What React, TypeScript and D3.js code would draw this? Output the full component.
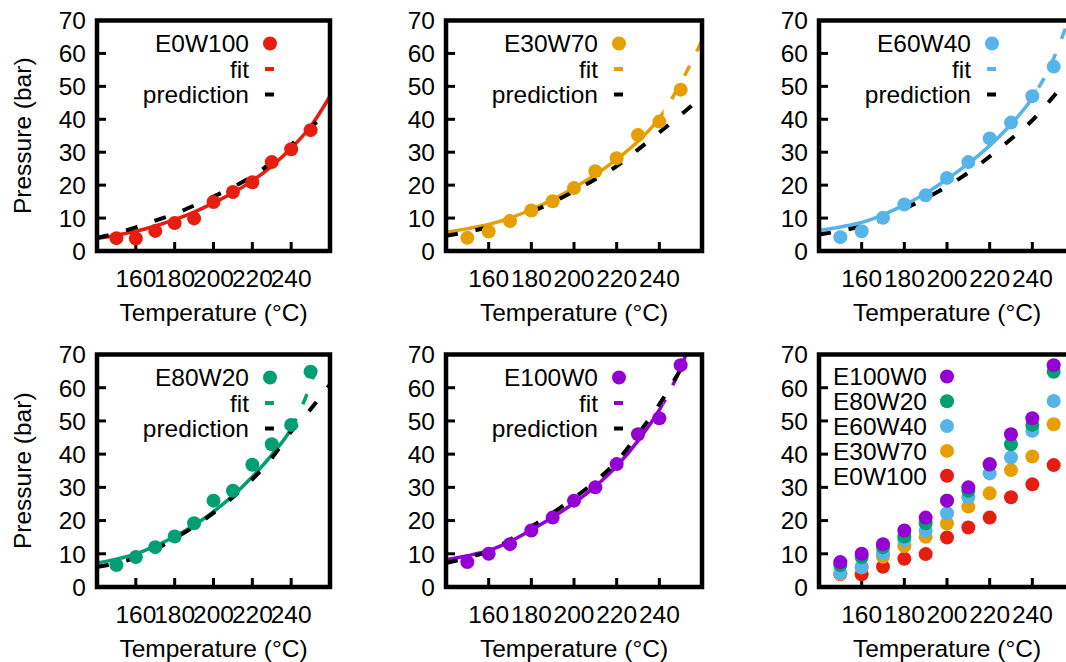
import React from "react";
import * as d3 from "d3";

// measured temperatures (°C)
const TEMPS = [150, 160, 170, 180, 190, 200, 210, 220, 230, 240, 250];
// temperatures the fit / prediction curves are read at
const CURVE_T = [140, 150, 160, 170, 180, 190, 200, 210, 220, 230, 240, 250, 260];

const X_TICKS = [160, 180, 200, 220, 240];
const Y_TICKS = [0, 10, 20, 30, 40, 50, 60, 70];

// measured pressures (bar)
const E0W100 = [3.9, 3.8, 6.1, 8.5, 9.9, 14.9, 17.9, 20.9, 27.0, 30.9, 36.7];
const E30W70 = [4.0, 5.9, 9.1, 12.3, 15.1, 19.1, 24.2, 28.2, 35.2, 39.3, 49.0];
const E60W40 = [4.2, 6.0, 10.1, 14.1, 16.9, 22.2, 27.0, 34.2, 39.0, 47.0, 56.0];
const E80W20 = [6.6, 9.0, 12.0, 15.2, 19.2, 26.0, 29.0, 36.8, 43.0, 48.8, 64.8];
const E100W0 = [7.5, 10.0, 12.9, 17.0, 20.9, 26.0, 30.0, 37.0, 46.0, 50.8, 66.8];

// fitted curves
const FIT_E0W100 = [3.8, 4.8, 6.0, 7.6, 9.5, 11.8, 14.6, 17.7, 21.3, 25.8, 31.2, 37.8, 47.0];
const FIT_E30W70 = [5.7, 6.8, 8.1, 10.0, 12.6, 15.6, 19.2, 23.2, 27.8, 33.3, 40.3, 51.0, 64.0];
const FIT_E60W40 = [6.2, 7.3, 8.7, 11.0, 14.0, 17.5, 21.8, 26.5, 32.0, 38.5, 46.5, 58.5, 76.0];
const FIT_E80W20 = [7.2, 8.4, 10.0, 12.3, 15.2, 18.6, 22.7, 27.5, 33.2, 39.8, 47.7, 61.0, 80.0];
const FIT_E100W0 = [8.2, 9.4, 11.0, 13.7, 17.2, 21.0, 25.3, 30.3, 36.4, 44.0, 53.3, 66.0, 84.0];

// predicted curves
const PRED_E0W100 = [4.0, 5.4, 7.2, 9.2, 11.3, 13.8, 16.5, 19.4, 22.7, 27.0, 32.2, 37.5, 43.0];
const PRED_E30W70 = [4.6, 5.8, 7.3, 9.4, 11.9, 14.8, 18.2, 21.8, 25.8, 30.8, 36.0, 41.3, 46.8];
const PRED_E60W40 = [5.0, 6.1, 7.5, 9.6, 12.8, 16.0, 19.6, 23.8, 28.7, 34.0, 39.7, 47.0, 55.0];
const PRED_E80W20 = [6.0, 7.2, 8.8, 11.3, 14.6, 18.2, 22.3, 27.0, 32.4, 38.8, 46.8, 53.5, 61.0];
const PRED_E100W0 = [7.2, 8.8, 10.8, 14.2, 18.2, 22.3, 26.8, 31.8, 37.8, 46.0, 55.0, 65.5, 77.0];

const COLORS: Record<string, string> = {
  E0W100: "#e51e10",
  E30W70: "#e69f00",
  E60W40: "#56b4e9",
  E80W20: "#009e73",
  E100W0: "#9400d3",
};

const FONT = "'Liberation Sans', Arial, Helvetica, sans-serif";
const FS = 24.5;

const COL_LEFT = [97, 446, 819];
const COL_WIDTH = [233, 256, 256];
const ROW_TOP = [20.5, 354.5];
const ROW_BOTTOM = [251, 587];

type Series = {
  name: string;
  points: number[];
  fit: number[];
  pred: number[];
  dashFrom: number | null; // fit turns dashed past this temperature
};

const SERIES: Series[] = [
  { name: "E0W100", points: E0W100, fit: FIT_E0W100, pred: PRED_E0W100, dashFrom: null },
  { name: "E30W70", points: E30W70, fit: FIT_E30W70, pred: PRED_E30W70, dashFrom: 242 },
  { name: "E60W40", points: E60W40, fit: FIT_E60W40, pred: PRED_E60W40, dashFrom: 242 },
  { name: "E80W20", points: E80W20, fit: FIT_E80W20, pred: PRED_E80W20, dashFrom: 242 },
  { name: "E100W0", points: E100W0, fit: FIT_E100W0, pred: PRED_E100W0, dashFrom: 242 },
];

function scales(col: number, row: number) {
  const left = COL_LEFT[col];
  const x = d3.scaleLinear().domain([140, 260]).range([left, left + COL_WIDTH[col]]);
  const y = d3.scaleLinear().domain([0, 70]).range([ROW_BOTTOM[row], ROW_TOP[row]]);
  return { x, y };
}

function Frame({ col, row, children }: { col: number; row: number; children?: React.ReactNode }) {
  const left = COL_LEFT[col];
  const right = left + COL_WIDTH[col];
  const top = ROW_TOP[row];
  const bottom = ROW_BOTTOM[row];
  const { x, y } = scales(col, row);
  const id = `clip-${col}-${row}`;

  return (
    <g>
      <defs>
        <clipPath id={id}>
          <rect x={left} y={top} width={right - left} height={bottom - top} />
        </clipPath>
      </defs>
      {Y_TICKS.map((t) => (
        <text key={t} x={left - 11} y={y(t)} dy="0.36em" textAnchor="end" fontSize={FS}>
          {t}
        </text>
      ))}
      {Y_TICKS.filter((t) => t > 0 && t < 70).map((t) => (
        <line key={t} x1={left} x2={left + 9} y1={y(t)} y2={y(t)} stroke="#000" strokeWidth={3} />
      ))}
      {X_TICKS.map((t) => (
        <g key={t}>
          <line x1={x(t)} x2={x(t)} y1={bottom} y2={bottom - 9} stroke="#000" strokeWidth={3} />
          <text x={x(t)} y={bottom + 36} textAnchor="middle" fontSize={FS}>
            {t}
          </text>
        </g>
      ))}
      <text x={(left + right) / 2} y={bottom + 70} textAnchor="middle" fontSize={FS}>
        Temperature (°C)
      </text>
      {col === 0 && (
        <text
          transform={`translate(22,${(top + bottom) / 2}) rotate(-90)`}
          dy="0.36em"
          textAnchor="middle"
          fontSize={FS}
        >
          Pressure (bar)
        </text>
      )}
      <g clipPath={`url(#${id})`}>{children}</g>
      <rect x={left} y={top} width={right - left} height={bottom - top} fill="none" stroke="#000" strokeWidth={4.5} />
    </g>
  );
}

function FitPanel({ s, col, row }: { s: Series; col: number; row: number }) {
  const color = COLORS[s.name];
  const left = COL_LEFT[col];
  const top = ROW_TOP[row];
  const { x, y } = scales(col, row);
  const line = d3
    .line<number>()
    .x((_, i) => x(CURVE_T[i]))
    .y((d) => y(d))
    .curve(d3.curveMonotoneX);
  const split = s.dashFrom == null ? x(260) + 10 : x(s.dashFrom);
  const cid = `fitsplit-${col}-${row}`;

  return (
    <g>
      <defs>
        <clipPath id={`${cid}-a`}>
          <rect x={0} y={0} width={split} height={700} />
        </clipPath>
        <clipPath id={`${cid}-b`}>
          <rect x={split} y={0} width={1200} height={700} />
        </clipPath>
      </defs>
      <Frame col={col} row={row}>
        <path d={line(s.fit)!} fill="none" stroke={color} strokeWidth={3.5} clipPath={`url(#${cid}-a)`} />
        <path
          d={line(s.fit)!}
          fill="none"
          stroke={color}
          strokeWidth={3.5}
          strokeDasharray="11 16"
          clipPath={`url(#${cid}-b)`}
        />
        <path d={line(s.pred)!} fill="none" stroke="#000" strokeWidth={4} strokeDasharray="12 18" />
      </Frame>
      {s.points.map((v, i) => (
        <circle key={i} cx={x(TEMPS[i])} cy={y(v)} r={7} fill={color} />
      ))}
      <g fontSize={FS} textAnchor="end">
        <text x={left + 152} y={top + 23} dy="0.36em">{s.name}</text>
        <text x={left + 152} y={top + 48.5} dy="0.36em">fit</text>
        <text x={left + 152} y={top + 74} dy="0.36em">prediction</text>
      </g>
      <circle cx={left + 173} cy={top + 23} r={7} fill={color} />
      <line x1={left + 168} x2={left + 177} y1={top + 48.5} y2={top + 48.5} stroke={color} strokeWidth={4} />
      <line x1={left + 168} x2={left + 177} y1={top + 74} y2={top + 74} stroke="#000" strokeWidth={4} />
    </g>
  );
}

function AllPanel({ col, row }: { col: number; row: number }) {
  const left = COL_LEFT[col];
  const top = ROW_TOP[row];
  const { x, y } = scales(col, row);
  const keyOrder = [...SERIES].reverse();
  return (
    <g>
      <Frame col={col} row={row} />
      {SERIES.map((s) =>
        s.points.map((v, i) => (
          <circle key={s.name + i} cx={x(TEMPS[i])} cy={y(v)} r={7} fill={COLORS[s.name]} />
        )),
      )}
      {keyOrder.map((s, i) => (
        <g key={s.name}>
          <text x={left + 14} y={top + 22 + i * 24.8} dy="0.36em" fontSize={FS}>
            {s.name}
          </text>
          <circle cx={left + 128} cy={top + 22 + i * 24.8} r={7} fill={COLORS[s.name]} />
        </g>
      ))}
    </g>
  );
}

export default function App() {
  return (
    <svg
      width={1066}
      height={662}
      style={{ position: "absolute", left: 0, top: 0, background: "#fff" }}
      fontFamily={FONT}
    >
      <rect width={1066} height={662} fill="#fff" />
      <FitPanel s={SERIES[0]} col={0} row={0} />
      <FitPanel s={SERIES[1]} col={1} row={0} />
      <FitPanel s={SERIES[2]} col={2} row={0} />
      <FitPanel s={SERIES[3]} col={0} row={1} />
      <FitPanel s={SERIES[4]} col={1} row={1} />
      <AllPanel col={2} row={1} />
    </svg>
  );
}
